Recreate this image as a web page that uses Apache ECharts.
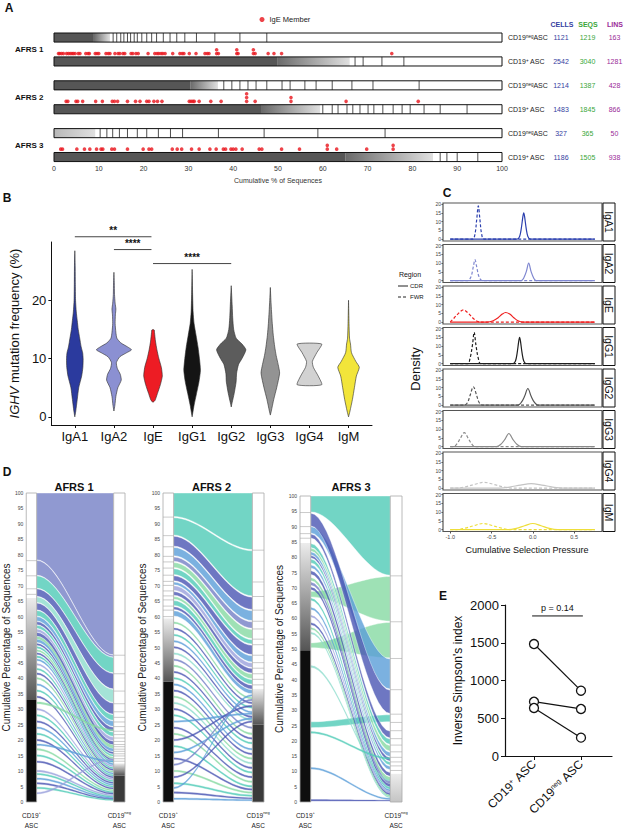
<!DOCTYPE html>
<html><head><meta charset="utf-8">
<script src="https://cdn.jsdelivr.net/npm/echarts@6.0.0/dist/echarts.min.js"></script>
<style>html,body{margin:0;padding:0;background:#fff;}#chart{width:625px;height:830px;}</style>
</head><body><div id="chart"></div>
<script>
// ================= DATA =================
// ---- Panel A : lineage bars ----
const aGroups = ['AFRS 1', 'AFRS 2', 'AFRS 3'];
const aRowType = ['neg', 'pos', 'neg', 'pos', 'neg', 'pos'];
const aHeaders = ['CELLS', 'SEQS', 'LINS'];
const aCells = [1121, 2542, 1214, 1483, 327, 1186];
const aSeqs = [1219, 3040, 1387, 1845, 365, 1505];
const aLins = [163, 1281, 428, 866, 50, 938];
// cumulative % where the tiny (merged) clones end, where the shaded band ends, and clone boundaries
const aDarkEnd = [8.9, 49.8, 30.4, 46.4, 0, 65.0];
const aGradEnd = [12.5, 66.0, 36.6, 59.4, 9.2, 84.6];
const aCuts = [
  [13.2, 14.0, 14.9, 15.6, 16.4, 17.1, 17.9, 18.6, 19.6, 20.7, 21.8, 22.9, 24.4, 25.9, 27.4, 29.2, 31.8, 35.9, 41.5, 47.5],
  [67.2, 69.0, 73.2, 78.1],
  [37.9, 39.7, 41.5, 43.3, 45.1, 47.5, 50.9, 52.7, 56.0, 58.5, 62.1, 66.5, 71.2, 81.5],
  [60.0, 62.1, 63.4, 65.4, 66.7, 68.3, 70.1, 71.4, 73.4, 75.7, 77.7, 79.5, 82.6, 86.2, 92.2],
  [10.3, 11.8, 13.1, 14.6, 16.4, 18.6, 20.7, 23.3, 26.0, 28.7, 36.7, 46.9, 58.9, 73.9],
  [86.2, 87.7, 90.0, 94.6]
];
// IgE member positions (cumulative %), repeated values are stacked dots
const igeAFRS1 = [1.0,1.3,1.7,2.1,2.8,3.2,3.6,4.0,4.3,4.7,5.4,5.8,7.1,7.6,7.9,9.2,9.6,10.0,11.6,12.1,12.5,13.6,14.3,14.7,15.4,15.8,17.2,17.6,18.3,18.8,21.0,22.5,23.0,23.4,23.9,24.3,24.8,26.5,28.1,28.6,29.0,30.2,31.7,33.7,34.2,34.6,36.3,36.3,36.7,40.8,40.8,41.1,44.5,44.5,44.9,47.8,49.1,50.8,75.4];
const igeAFRS2 = [2.7,3.1,4.9,5.3,6.4,9.3,10.8,13.0,13.5,14.2,16.4,18.2,19.2,20.7,21.2,22.3,23.1,24.1,30.2,30.6,31.0,31.3,32.4,35.0,37.3,43.0,43.0,43.0,44.9,52.9,52.9,65.2,81.3];
const igeAFRS3 = [1.5,1.9,5.1,6.8,8.0,9.5,10.5,10.9,12.9,13.5,16.4,19.9,21.2,21.8,26.4,27.5,28.5,30.7,32.4,34.8,36.2,37.8,38.3,39.5,40.0,40.6,42.0,45.8,46.4,50.8,54.8,61.0,61.0,63.1,69.8,75.7,75.7];

// ---- Panel B : violins (IGHV mutation frequency, [value %, density width]) ----
const isotypes = ['IgA1', 'IgA2', 'IgE', 'IgG1', 'IgG2', 'IgG3', 'IgG4', 'IgM'];
const violinIgA1 = [[0,0],[1,2],[3,5],[5,8],[7,14],[8.5,16.5],[10,17],[11,16],[12,13],[13.5,10],[15,7],[16.5,5],[18,3],[20,1.5],[23,1],[26,0.7],[28.5,0]];
const violinIgA2 = [[1,0],[2,2],[3.5,4],[5,8],[6.3,15],[7.3,13],[8.3,7],[9.3,5],[10.3,12],[11,26],[11.5,36],[12,28],[12.7,14],[13.5,6],[14.5,4],[16,2.5],[17.5,3],[18.5,4],[19.5,2.5],[21,1.2],[23,0.8],[24.8,0]];
const violinIgE = [[2.5,0],[2.8,4],[4,9],[5.5,15],[7,19],[8.5,17],[10,12],[11.5,8],[13,5],[14.5,3],[14.9,2.5],[15,0]];
const violinIgG1 = [[0,0],[1,2],[2,4],[4,9],[6,14],[8,17],[10,15],[12,12],[14,8],[16,4],[18,2],[21,1],[25.3,0]];
const violinIgG2 = [[1.7,0],[2.5,2],[4,6],[6,10],[7.5,11],[9,15],[10,22],[11.5,30],[12.5,22],[13.5,10],[15,5],[17,3],[19,2],[22.5,0]];
const violinIgG3 = [[0.3,0],[1,2],[3,7],[5,13],[7.5,19],[9,16],[10.5,12],[12,9],[14,6],[16,4],[18,2.5],[20,1.2],[22.2,0]];
const violinIgG4 = [[5.5,25],[7,18],[8.5,8],[9.5,6],[11,15],[12.5,25]];
const violinIgM = [[0,0],[1,3],[3,8],[5,12],[7,16],[8.5,22],[9.5,15],[11,6],[12.5,4],[13.5,2],[16,1],[20,0]];
const bTicks = [0, 10, 20];
// [from isotype, to isotype, height, label]
const sigBrackets = [[1, 2.96, 30.9, '**'], [2, 2.96, 28.7, '****'], [3, 5, 26.3, '****']];

// ---- Panel C : selection pressure densities ([pressure, density]) ----
const cdrIgA1 = [[-1,0],[-0.19,0],[-0.16,1.5],[-0.14,6],[-0.12,13],[-0.11,15],[-0.10,13],[-0.08,6],[-0.06,1.5],[-0.03,0],[0.75,0]];
const cdrIgA2 = [[-1,0],[-0.14,0],[-0.11,1.5],[-0.08,5],[-0.05,10],[-0.02,5],[0.01,1.5],[0.04,0],[0.75,0]];
const cdrIgE = [[-1,0],[-0.55,0],[-0.48,0.8],[-0.42,2.5],[-0.37,4.6],[-0.33,5.5],[-0.28,4.6],[-0.23,2.5],[-0.18,0.8],[-0.12,0],[0.75,0]];
const cdrIgG1 = [[-1,0],[-0.24,0],[-0.21,1.5],[-0.19,6],[-0.17,13],[-0.16,15],[-0.15,13],[-0.13,6],[-0.11,1.5],[-0.08,0],[0.75,0]];
const cdrIgG2 = [[-1,0],[-0.18,0],[-0.14,1.5],[-0.10,5],[-0.06,9.5],[-0.02,5],[0.02,1.5],[0.06,0],[0.75,0]];
const cdrIgG3 = [[-1,0],[-0.44,0],[-0.39,1.2],[-0.34,4],[-0.29,7.5],[-0.24,4],[-0.19,1.2],[-0.14,0],[0.75,0]];
const cdrIgG4 = [[-1,0],[-0.40,0],[-0.28,0.6],[-0.15,1.7],[-0.02,2.5],[0.11,1.7],[0.24,0.6],[0.36,0],[0.75,0]];
const cdrIgM = [[-1,0],[-0.30,0],[-0.20,0.7],[-0.10,2.2],[0.0,3.5],[0.10,2.2],[0.20,0.7],[0.30,0],[0.75,0]];
const fwrIgA1 = [[-1,0],[-0.73,0],[-0.70,3],[-0.68,11],[-0.66,19],[-0.64,11],[-0.62,3],[-0.59,0],[0.75,0]];
const fwrIgA2 = [[-1,0],[-0.79,0],[-0.75,2],[-0.72,8],[-0.70,12],[-0.68,8],[-0.65,2],[-0.61,0],[0.75,0]];
const fwrIgE = [[-1,0],[-0.99,0.5],[-0.95,2.5],[-0.90,5],[-0.84,7],[-0.78,5],[-0.73,2.5],[-0.68,0.6],[-0.63,0],[0.75,0]];
const fwrIgG1 = [[-1,0],[-0.79,0],[-0.76,3],[-0.73,11],[-0.71,18],[-0.69,11],[-0.66,3],[-0.63,0],[0.75,0]];
const fwrIgG2 = [[-1,0],[-0.83,0],[-0.79,1.5],[-0.76,5.5],[-0.72,10.5],[-0.68,5.5],[-0.65,1.5],[-0.61,0],[0.75,0]];
const fwrIgG3 = [[-1,0],[-0.96,0],[-0.92,1.5],[-0.88,4.5],[-0.83,8],[-0.78,4.5],[-0.74,1.5],[-0.70,0],[0.75,0]];
const fwrIgG4 = [[-1,0],[-0.92,0],[-0.82,0.7],[-0.70,2.2],[-0.59,3.3],[-0.48,2.2],[-0.36,0.7],[-0.26,0],[0.75,0]];
const fwrIgM = [[-1,0],[-0.92,0],[-0.82,0.8],[-0.71,2.3],[-0.60,3.5],[-0.49,2.3],[-0.38,0.8],[-0.28,0],[0.75,0]];
const cTicksX = [-1, -0.5, 0, 0.5];
const cTicksY = [0, 5, 10, 15, 20];

// ---- Panel D : alluvial flows [CD19+ low, CD19+ high, CD19neg low, CD19neg high, colour group] ----
const dTitles = ['AFRS 1', 'AFRS 2', 'AFRS 3'];
const dBlackEnd = [8.6, 33.0, 25.0, 38.9, 0, 49.6];
const flowsAFRS1 = [
  [78.4,100,47.6,100,0],[73.4,78.2,46.9,47.5,0],[69.2,73.2,41.8,46.8,1],[66.6,69.0,36.6,41.6,2],[64.6,66.4,32.2,36.4,6],
  [62.2,64.4,28.4,32.0,2],[60.2,62.0,26.4,28.2,1],[58.6,60.0,24.4,26.2,3],[57.4,58.4,22.8,24.2,2],[56.2,57.2,21.2,22.6,1],
  [55.0,56.0,19.8,21.0,5],[53.8,54.8,18.6,19.6,2],[52.8,53.6,17.4,18.4,4],[51.8,52.6,16.4,17.2,3],
  [50.8,51.3,15.6,16.1,2],[49.8,50.3,14.8,15.3,1],[48.8,49.3,14.0,14.5,4],[47.8,48.3,13.4,13.8,2],[46.8,47.3,12.8,13.2,1],
  [45.8,46.3,12.0,12.5,3],[44.3,44.8,11.4,11.8,5],[42.8,43.3,10.8,11.2,1],[41.3,41.8,10.2,10.6,2],[39.8,40.3,9.6,10.0,4],
  [37.8,38.3,9.0,9.4,3],[35.8,36.3,8.4,8.8,1],[33.8,34.3,7.8,8.2,2],[31.8,32.4,23.0,23.5,4],[29.8,30.3,7.2,7.6,5],
  [27.8,28.3,6.6,7.0,1],[25.8,26.3,6.0,6.4,2],[23.8,24.3,5.4,5.8,3],[21.8,22.3,4.8,5.2,1],[19.8,20.3,4.2,4.6,2],
  [18.3,18.8,13.0,13.4,3],[16.8,17.3,3.6,4.0,4],[14.8,15.3,3.0,3.4,1],[12.8,13.3,2.5,2.9,2],[9.8,10.3,2.0,2.4,5],
  [8.8,9.3,1.5,1.9,1],[7.3,7.8,1.1,1.5,3],[5.8,6.3,0.8,1.1,2],[4.3,4.8,0.5,0.8,1],[2.6,3.1,13.6,14.0,5]
];
const flowsAFRS2 = [
  [92.4,100,81.7,100,1],[86.4,92.0,66.7,81.3,1],[82.8,86.0,62.3,66.3,2],[79.7,82.4,58.7,61.9,3],[77.9,79.3,56.2,58.3,0],
  [75.9,77.5,52.9,55.8,4],[73.6,75.5,51.1,52.5,1],[71.6,73.2,47.7,50.7,2],[70.3,71.2,45.3,47.3,3],[68.5,70.0,43.5,45.0,5],
  [66.9,68.1,41.7,43.2,2],[65.6,66.5,39.9,41.4,4],[63.6,65.2,38.1,39.6,1],[62.3,63.2,36.5,37.8,2],[60.2,61.9,35.0,36.3,3],
  [57.8,58.3,33.3,33.8,4],[55.8,56.3,31.8,32.3,2],[53.8,54.3,30.3,30.8,1],[51.8,52.3,28.8,29.3,3],[49.8,50.3,27.3,27.8,2],
  [47.8,48.3,26.3,26.8,6],[45.8,46.3,23.8,24.3,0],[43.8,44.3,21.8,22.3,4],[41.8,42.3,20.3,20.8,2],[39.8,40.3,18.8,19.3,1],
  [37.8,38.3,16.8,17.3,3],[35.8,36.3,15.3,15.8,2],[33.8,34.3,13.8,14.3,4],[31.8,32.3,12.3,12.8,6],[29.8,30.3,10.8,11.3,2],
  [27.8,28.3,9.3,9.8,1],[25.8,26.3,28.3,28.8,3],[23.8,24.3,7.8,8.3,2],[21.8,22.3,6.3,6.8,4],[19.8,20.3,30.8,31.3,2],
  [17.8,18.3,4.8,5.3,1],[15.8,16.3,26.8,27.3,3],[13.8,14.3,3.8,4.3,2],[11.8,12.3,32.8,33.3,0],[9.8,10.3,2.8,3.3,4],
  [7.8,8.3,25.8,26.3,2],[5.8,6.3,1.8,2.3,1],[4.3,4.8,34.3,34.8,3],[2.8,3.3,1.0,1.4,2],[0.8,1.3,0.4,0.8,3]
];
const flowsAFRS3 = [
  [94.8,100,74.1,100,1],[67.0,68.8,59.1,73.7,4],[50.4,52.0,47.1,58.7,4],[87.9,90.0,36.9,46.7,3],[90.2,94.4,28.9,36.5,2],
  [24.3,26.2,26.2,28.5,1],[86.3,87.6,20.9,23.1,2],[83.2,84.5,18.8,20.5,1],[82.0,83.0,16.6,18.4,4],[80.8,81.8,14.8,16.2,3],
  [79.8,80.6,13.3,14.5,2],[78.2,79.4,12.0,13.0,1],[76.5,77.5,10.5,11.6,3],[74.5,75.5,8.5,9.5,2],[72.5,73.3,7.0,8.0,4],
  [71.0,71.8,6.0,6.8,0],[69.5,70.2,5.0,5.8,2],[66.0,66.6,4.2,4.8,1],[63.0,63.6,3.5,4.0,3],[60.5,61.0,2.9,3.4,5],
  [58.0,58.6,2.3,2.8,2],[56.5,57.0,1.8,2.2,4],[55.0,55.5,1.3,1.7,6],[44.0,44.6,6.8,7.3,6],[22.5,23.0,14.0,14.5,1],
  [10.8,11.3,0.8,1.2,3],[0.3,0.8,0.3,0.6,2]
];

// ---- Panel E : inverse Simpson's index ----
const eGroups = ['CD19+ ASC', 'CD19neg ASC'];
const eCD19pos = [1483, 719, 636];
const eCD19neg = [865, 623, 243];
const ePValue = 'p = 0.14';

// ================= STYLE / BUILD =================
const FONT = '"Liberation Sans", Arial, Helvetica, sans-serif';
const isoColors = ['#2b3a9e', '#8b90d2', '#ed1c24', '#141414', '#5c5c5c', '#939393', '#d2d2d2', '#f2e53a'];
const cLineColors = ['#2b3fae', '#7f87d0', '#ef2020', '#1e1e1e', '#555555', '#8a8a8a', '#c4c4c4', '#eede3a'];
const flowColors = ['#7480c6', '#4fcab6', '#4a55b3', '#5a9ed8', '#86d9a2', '#9aa0dc', '#8ddccd'];
const violins = [violinIgA1, violinIgA2, violinIgE, violinIgG1, violinIgG2, violinIgG3, violinIgG4, violinIgM];
const cdrCurves = [cdrIgA1, cdrIgA2, cdrIgE, cdrIgG1, cdrIgG2, cdrIgG3, cdrIgG4, cdrIgM];
const fwrCurves = [fwrIgA1, fwrIgA2, fwrIgE, fwrIgG1, fwrIgG2, fwrIgG3, fwrIgG4, fwrIgM];
const dFlows = [flowsAFRS1, flowsAFRS2, flowsAFRS3];

const grids = [], xAxes = [], yAxes = [], series = [], gfx = [];
function addGrid(g, xa, ya) {
  grids.push(Object.assign({ containLabel: false }, g));
  const gi = grids.length - 1;
  xAxes.push(Object.assign({ gridIndex: gi, splitLine: { show: false } }, xa));
  yAxes.push(Object.assign({ gridIndex: gi, splitLine: { show: false } }, ya));
  return gi;
}
function txt(text, x, y, o) {
  o = o || {};
  gfx.push({ type: 'text', x: x, y: y, rotation: o.rot || 0, silent: true,
    style: { text: text, fontSize: o.size || 10, fontWeight: o.bold ? 'bold' : 'normal', fontFamily: FONT,
      fill: o.color || '#111', align: o.align || 'center', verticalAlign: 'middle', rich: o.rich } });
}

// ---------- Panel A ----------
const gA = addGrid({ left: 54, top: 25.6, width: 448, height: 138.6 },
  { type: 'value', min: 0, max: 100, interval: 10, axisLine: { show: false }, axisTick: { show: false },
    axisLabel: { fontSize: 7, color: '#333', margin: 1, fontFamily: FONT },
    name: 'Cumulative % of Sequences', nameLocation: 'middle', nameGap: 13,
    nameTextStyle: { fontSize: 7, color: '#333', fontFamily: FONT } },
  { type: 'value', min: -0.5, max: 5.3, inverse: true, show: false });
series.push({
  type: 'custom', xAxisIndex: gA, yAxisIndex: gA, silent: true,
  data: aRowType.map((t, i) => [0, i]),
  renderItem: (params, api) => {
    const i = params.dataIndex;
    const h = api.size([0, 0.38])[1];
    const p0 = api.coord([0, i]), p100 = api.coord([100, i]);
    const y0 = p0[1] - h / 2;
    const ch = [];
    const pd = api.coord([aDarkEnd[i], i]), pg = api.coord([aGradEnd[i], i]);
    if (aDarkEnd[i] > 0) ch.push({ type: 'rect', shape: { x: p0[0], y: y0, width: pd[0] - p0[0], height: h }, style: { fill: '#565656' } });
    ch.push({ type: 'rect', shape: { x: pd[0], y: y0, width: pg[0] - pd[0], height: h },
      style: { fill: new echarts.graphic.LinearGradient(0, 0, 1, 0, [{ offset: 0, color: aDarkEnd[i] > 0 ? '#6a6a6a' : '#b8b8b8' }, { offset: 1, color: '#e0e0e0' }]) } });
    aCuts[i].forEach(c => { const pc = api.coord([c, i]); ch.push({ type: 'line', shape: { x1: pc[0], y1: y0, x2: pc[0], y2: y0 + h }, style: { stroke: '#222', lineWidth: 0.8 } }); });
    ch.push({ type: 'rect', shape: { x: p0[0], y: y0, width: p100[0] - p0[0], height: h }, style: { fill: 'none', stroke: '#111', lineWidth: 1 } });
    return { type: 'group', children: ch };
  }
});
series.push({
  type: 'custom', xAxisIndex: gA, yAxisIndex: gA, silent: true,
  data: aRowType.map((t, i) => [100, i]),
  renderItem: (params, api) => {
    const i = params.dataIndex; const p = api.coord([100, i]); const y = p[1];
    const base = { fontSize: 7, fontFamily: FONT, verticalAlign: 'middle' };
    const lab = aRowType[i] === 'neg' ? 'CD19{sup|neg}ASC' : 'CD19{sup|+} ASC';
    const ch = [
      { type: 'text', x: p[0] + 6, y: y, style: Object.assign({ text: lab, fill: '#222', align: 'left', rich: { sup: { fontSize: 4.5, fontFamily: FONT, fill: '#222', verticalAlign: 'top' } } }, base) },
      { type: 'text', x: p[0] + 59, y: y, style: Object.assign({ text: String(aCells[i]), fill: '#3440a0', align: 'center' }, base) },
      { type: 'text', x: p[0] + 85.5, y: y, style: Object.assign({ text: String(aSeqs[i]), fill: '#3aa63a', align: 'center' }, base) },
      { type: 'text', x: p[0] + 112.5, y: y, style: Object.assign({ text: String(aLins[i]), fill: '#9a2c98', align: 'center' }, base) }
    ];
    if (aRowType[i] === 'neg') {
      const q = api.coord([0, i + 0.5]);
      ch.push({ type: 'text', x: q[0] - 39, y: q[1], style: { text: aGroups[i / 2], fontSize: 8, fontWeight: 'bold', fontFamily: FONT, fill: '#111', align: 'left', verticalAlign: 'middle' } });
    }
    return { type: 'group', children: ch };
  }
});
function dotData(xs, row) {
  const seen = {};
  return xs.map(x => { const n = seen[x] || 0; seen[x] = n + 1; return [x, row - 0.33 - n * 0.16]; });
}
[igeAFRS1, igeAFRS2, igeAFRS3].forEach((xs, k) => {
  series.push({ type: 'scatter', name: 'IgE Member', xAxisIndex: gA, yAxisIndex: gA, data: dotData(xs, 2 * k + 1),
    symbol: 'circle', symbolSize: 3.6, itemStyle: { color: '#e8141c' }, silent: true, z: 5 });
});
[['CELLS', 562, '#3440a0'], ['SEQS', 588, '#3aa63a'], ['LINS', 615, '#9a2c98']].forEach((h, k) =>
  txt(aHeaders[k], h[1], 24, { size: 7, bold: true, color: h[2] }));

// ---------- Panel B ----------
const gB = addGrid({ left: 42, top: 242, width: 330, height: 183 },
  { type: 'value', min: 0.4, max: 8.6,
    axisLine: { show: true, onZero: false, lineStyle: { color: '#111', width: 1 } },
    axisTick: { show: true, customValues: [1, 2, 3, 4, 5, 6, 7, 8], length: 3, lineStyle: { color: '#111' } },
    axisLabel: { customValues: [1, 2, 3, 4, 5, 6, 7, 8], formatter: v => isotypes[Math.round(v) - 1], fontSize: 13, color: '#111', margin: 5, fontFamily: FONT } },
  { type: 'value', min: -1.4, max: 30,
    axisLine: { show: true, onZero: false, lineStyle: { color: '#111', width: 1 } },
    axisTick: { show: true, customValues: bTicks, length: 3, lineStyle: { color: '#111' } },
    axisLabel: { customValues: bTicks, fontSize: 13, color: '#111', margin: 5, fontFamily: FONT },
    name: '{i|IGHV} mutation frequency (%)', nameLocation: 'middle', nameGap: 19, nameRotate: 90,
    nameTextStyle: { fontSize: 13, color: '#111', fontFamily: FONT, rich: { i: { fontSize: 13, fontStyle: 'italic', fontFamily: FONT, color: '#111' } } } });
series.push({
  type: 'custom', xAxisIndex: gB, yAxisIndex: gB, silent: true,
  data: isotypes.map((n, i) => [i + 1, 10]),
  renderItem: (params, api) => {
    const i = params.dataIndex; const prof = violins[i];
    const unit = api.size([1, 0])[0] / 40;
    const c = api.coord([i + 1, 0]);
    const left = [], right = [];
    prof.forEach(([y, w]) => {
      const py = api.coord([i + 1, y])[1];
      left.push([c[0] - w / 2 * unit, py]);
      right.push([c[0] + w / 2 * unit, py]);
    });
    const pts = left.concat(right.reverse());
    return { type: 'polygon', shape: { points: pts, smooth: 0.2 }, style: { fill: isoColors[i], stroke: '#2a2a2a', lineWidth: 0.6 } };
  }
});
series.push({
  type: 'custom', xAxisIndex: gB, yAxisIndex: gB, silent: true, clip: false,
  data: sigBrackets.map(s => [s[0], s[2]]),
  renderItem: (params, api) => {
    const s = sigBrackets[params.dataIndex];
    const a = api.coord([s[0], s[2]]), b = api.coord([s[1], s[2]]);
    return { type: 'group', children: [
      { type: 'line', shape: { x1: a[0], y1: a[1], x2: b[0], y2: b[1] }, style: { stroke: '#444', lineWidth: 1 } },
      { type: 'text', x: (a[0] + b[0]) / 2, y: a[1] - 6, style: { text: s[3], fontSize: 10, fontWeight: 'bold', fontFamily: FONT, fill: '#111', align: 'center', verticalAlign: 'middle' } }
    ] };
  }
});

// ---------- Panel C ----------
isotypes.forEach((iso, k) => {
  const top = 203 + k * 41.5;
  const last = k === isotypes.length - 1;
  const g = addGrid({ left: 443, top: top, width: 159, height: 38, show: true, borderColor: '#555', borderWidth: 1.2, backgroundColor: '#fff' },
    { type: 'value', min: -1.0875, max: 0.8375, axisLine: { show: false, onZero: false },
      axisTick: { show: last, customValues: cTicksX, length: 2, lineStyle: { color: '#555' } },
      axisLabel: { show: last, customValues: cTicksX, formatter: v => v.toFixed(1), fontSize: 5.5, color: '#444', margin: 2, fontFamily: FONT } },
    { type: 'value', min: -1.1, max: 20.7, axisLine: { show: false, onZero: false },
      axisTick: { show: true, customValues: cTicksY, length: 1.5, lineStyle: { color: '#555' } },
      axisLabel: { customValues: cTicksY, fontSize: 5, color: '#444', margin: 2, fontFamily: FONT } });
  series.push({ type: 'line', name: 'CDR', xAxisIndex: g, yAxisIndex: g, data: cdrCurves[k], smooth: 0.35, showSymbol: false, silent: true,
    lineStyle: { color: cLineColors[k], width: 1.2, type: 'solid' } });
  series.push({ type: 'line', name: 'FWR', xAxisIndex: g, yAxisIndex: g, data: fwrCurves[k], smooth: 0.35, showSymbol: false, silent: true,
    lineStyle: { color: cLineColors[k], width: 1.2, type: [3, 2] } });
  gfx.push({ type: 'rect', shape: { x: 603, y: top, width: 12, height: 38 }, style: { fill: '#fff', stroke: '#111', lineWidth: 1 }, silent: true });
  txt(iso, 609, top + 19, { size: 10.5, rot: -Math.PI / 2 });
});
txt('Density', 415, 369, { size: 13, rot: Math.PI / 2 });
txt('Cumulative Selection Pressure', 527, 550, { size: 9 });
txt('Region', 410, 274, { size: 7, align: 'center' });
gfx.push({ type: 'line', shape: { x1: 398, y1: 286, x2: 408, y2: 286 }, style: { stroke: '#222', lineWidth: 1 }, silent: true });
txt('CDR', 410, 286, { size: 6, align: 'left' });
gfx.push({ type: 'line', shape: { x1: 398, y1: 297, x2: 408, y2: 297 }, style: { stroke: '#222', lineWidth: 1, lineDash: [3, 2] }, silent: true });
txt('FWR', 410, 297, { size: 6, align: 'left' });

// ---------- Panel D ----------
const dGridPos = [[23, 493, 102, 309, 11], [163, 493, 101, 309, 11], [300, 496, 102, 307, 12]];
dTitles.forEach((title, k) => {
  const gp = dGridPos[k];
  const g = addGrid({ left: gp[0], top: gp[1], width: gp[2], height: gp[3] },
    { type: 'value', min: 0, max: 1, axisLine: { show: false, onZero: false }, axisTick: { show: false },
      axisLabel: { customValues: [0.0525, 0.9425], formatter: v => v < 0.5 ? 'CD19{sup|+}\nASC' : 'CD19{sup|neg}\nASC',
        fontSize: 6.5, color: '#222', margin: 8, fontFamily: FONT, lineHeight: 10,
        rich: { sup: { fontSize: 4, verticalAlign: 'top', fontFamily: FONT, color: '#222' } } } },
    { type: 'value', min: 0, max: 100, interval: 5, axisLine: { show: false, onZero: false }, axisTick: { show: false },
      axisLabel: { fontSize: 5, color: '#444', margin: 3, fontFamily: FONT },
      name: 'Cumulative Percentage of Sequences', nameLocation: 'middle', nameRotate: 90, nameGap: gp[4],
      nameTextStyle: { fontSize: 10, color: '#222', fontFamily: FONT } });
  const flows = dFlows[k];
  series.push({
    type: 'custom', xAxisIndex: g, yAxisIndex: g, silent: true,
    data: flows.map(f => [0.5, (f[0] + f[1]) / 2]),
    renderItem: (params, api) => {
      const f = flows[params.dataIndex];
      const N = 20, pts = [];
      const a1 = api.coord([0.105, f[1]]), b1 = api.coord([0.885, f[3]]);
      for (let s = 0; s <= N; s++) { const t = s / N, e = t * t * (3 - 2 * t); pts.push([a1[0] + (b1[0] - a1[0]) * t, a1[1] + (b1[1] - a1[1]) * e]); }
      const a0 = api.coord([0.105, f[0]]), b0 = api.coord([0.885, f[2]]);
      for (let s = N; s >= 0; s--) { const t = s / N, e = t * t * (3 - 2 * t); pts.push([a0[0] + (b0[0] - a0[0]) * t, a0[1] + (b0[1] - a0[1]) * e]); }
      const wide = (f[1] - f[0]) > 1 || (f[3] - f[2]) > 1;
      return { type: 'polygon', shape: { points: pts },
        style: { fill: flowColors[f[4]], opacity: 0.8, stroke: wide ? 'rgba(255,255,255,0.85)' : flowColors[f[4]], lineWidth: wide ? 0.6 : 0.3 } };
    }
  });
  series.push({
    type: 'custom', xAxisIndex: g, yAxisIndex: g, silent: true,
    data: [[0.05, 50], [0.94, 50]],
    renderItem: (params, api) => {
      const side = params.dataIndex; const row = side === 0 ? 2 * k + 1 : 2 * k;
      const x0 = side === 0 ? 0 : 0.885, x1 = side === 0 ? 0.105 : 1;
      const tl = api.coord([x0, 100]), br = api.coord([x1, 0]);
      const w = br[0] - tl[0];
      const ch = [{ type: 'rect', shape: { x: tl[0], y: tl[1], width: w, height: br[1] - tl[1] }, style: { fill: '#fff' } }];
      const be = dBlackEnd[row];
      const pb = api.coord([x0, be]), pg = api.coord([x0, aGradEnd[row]]);
      if (be > 0) ch.push({ type: 'rect', shape: { x: tl[0], y: pb[1], width: w, height: br[1] - pb[1] }, style: { fill: side === 0 ? '#0e0e0e' : '#3a3a3a' } });
      ch.push({ type: 'rect', shape: { x: tl[0], y: pg[1], width: w, height: pb[1] - pg[1] },
        style: { fill: new echarts.graphic.LinearGradient(0, 1, 0, 0, [{ offset: 0, color: be > 0 ? '#555' : '#c4c4c4' }, { offset: 1, color: '#ececec' }]) } });
      aCuts[row].forEach(v => { if (v <= be) return; const p = api.coord([x0, v]); ch.push({ type: 'line', shape: { x1: tl[0], y1: p[1], x2: tl[0] + w, y2: p[1] }, style: { stroke: '#b4b4b4', lineWidth: 0.7 } }); });
      ch.push({ type: 'rect', shape: { x: tl[0], y: tl[1], width: w, height: br[1] - tl[1] }, style: { fill: 'none', stroke: '#a8a8a8', lineWidth: 0.8 } });
      return { type: 'group', children: ch };
    }
  });
  txt(title, gp[0] + gp[2] / 2 + (k === 1 ? -2 : 0), 487, { size: 11, bold: true });
});

// ---------- Panel E ----------
const gE = addGrid({ left: 505, top: 605, width: 107, height: 151 },
  { type: 'value', min: 0.383, max: 2.66,
    axisLine: { show: true, onZero: false, lineStyle: { color: '#111', width: 1.2 } },
    axisTick: { show: true, customValues: [1, 2], length: 4, lineStyle: { color: '#111' } },
    axisLabel: { customValues: [1, 2], rotate: 45, margin: 6, fontSize: 12, color: '#111', fontFamily: FONT,
      formatter: v => v < 1.5 ? 'CD19{sup|+} ASC' : 'CD19{sup|neg} ASC',
      rich: { sup: { fontSize: 7, verticalAlign: 'top', fontFamily: FONT, color: '#111' } } } },
  { type: 'value', min: 0, max: 2000, interval: 500,
    axisLine: { show: true, onZero: false, lineStyle: { color: '#111', width: 1.2 } },
    axisTick: { show: true, length: 4, lineStyle: { color: '#111' } },
    axisLabel: { fontSize: 13, color: '#111', margin: 6, fontFamily: FONT, formatter: v => String(v) },
    name: "Inverse Simpson's index", nameLocation: 'middle', nameRotate: 90, nameGap: 41,
    nameTextStyle: { fontSize: 12, color: '#111', fontFamily: FONT } });
eCD19pos.forEach((v, k) => {
  series.push({ type: 'line', xAxisIndex: gE, yAxisIndex: gE, data: [[1, v], [2, eCD19neg[k]]], symbol: 'circle', symbolSize: 9,
    itemStyle: { color: '#fff', borderColor: '#111', borderWidth: 1.3 }, lineStyle: { color: '#111', width: 1.2 }, silent: true, z: 4 });
});
series.push({
  type: 'custom', xAxisIndex: gE, yAxisIndex: gE, silent: true,
  data: [[0.96, 1855]],
  renderItem: (params, api) => {
    const a = api.coord([0.96, 1855]), b = api.coord([2.04, 1855]);
    return { type: 'group', children: [
      { type: 'line', shape: { x1: a[0], y1: a[1], x2: b[0], y2: b[1] }, style: { stroke: '#111', lineWidth: 1 } },
      { type: 'text', x: (a[0] + b[0]) / 2, y: a[1] - 8, style: { text: ePValue, fontSize: 9, fontFamily: FONT, fill: '#111', align: 'center', verticalAlign: 'middle' } }
    ] };
  }
});

// ---------- panel letters ----------
txt('A', 9, 8, { size: 12, bold: true });
txt('B', 7, 198, { size: 12, bold: true });
txt('C', 447, 193, { size: 12, bold: true });
txt('D', 7, 472, { size: 12, bold: true });
txt('E', 443, 596, { size: 12, bold: true });

const chart = echarts.init(document.getElementById('chart'), null, { renderer: 'svg', width: 625, height: 830 });
chart.setOption({
  animation: false,
  backgroundColor: '#fff',
  textStyle: { fontFamily: FONT },
  legend: { data: ['IgE Member'], left: 259.5, top: 15.5, itemWidth: 5, itemHeight: 5, icon: 'circle', itemGap: 0, padding: 0,
    textStyle: { fontSize: 7.5, color: '#222', fontFamily: FONT, padding: [0, 0, 0, 0] }, selectedMode: false },
  grid: grids, xAxis: xAxes, yAxis: yAxes, series: series,
  graphic: { elements: gfx }
});
</script></body></html>
